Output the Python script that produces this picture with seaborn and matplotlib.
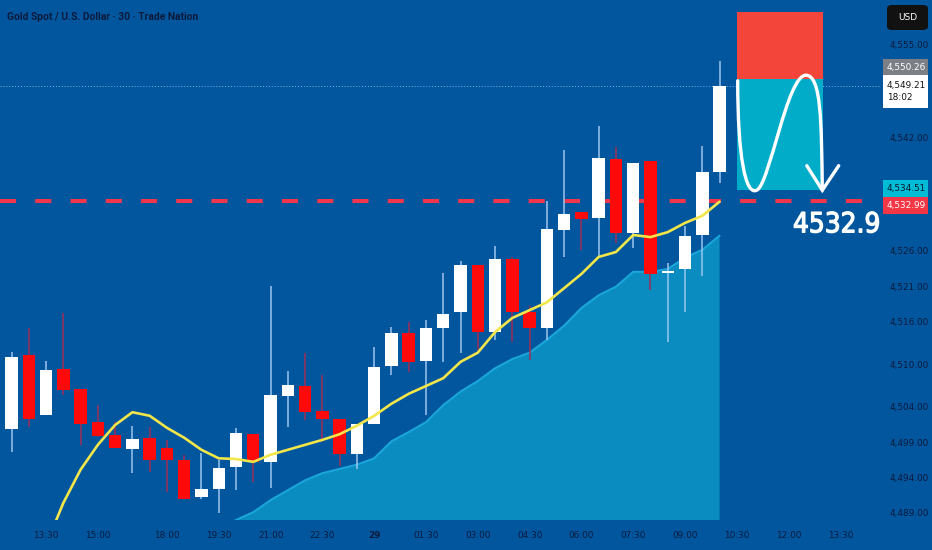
import matplotlib
matplotlib.use("Agg")
import matplotlib.pyplot as plt
import matplotlib.transforms as mtransforms
import matplotlib.patheffects as pe
from matplotlib.patches import Rectangle, FancyBboxPatch, PathPatch
from matplotlib.path import Path
import numpy as np
import pandas as pd
import seaborn as sns

# -------------------------------
# Data (30 min candles, 28th 12:30 -> 29th 10:00)
# -------------------------------
opens = [4500.8, 4511.3, 4502.8, 4509.3, 4506.5, 4501.8, 4500.0, 4498.0, 4499.6, 4498.2,
         4496.5, 4491.2, 4492.4, 4495.5, 4500.1, 4496.2, 4505.5, 4506.9, 4503.4, 4502.2,
         4497.3, 4501.5, 4509.7, 4514.4, 4510.4, 4515.1, 4517.3, 4524.0, 4514.5, 4524.8,
         4517.3, 4515.1, 4528.9, 4531.4, 4530.6, 4538.9, 4528.5, 4538.6, 4522.8, 4523.4,
         4528.2, 4537.1]
closes = [4511.0, 4502.2, 4509.2, 4506.3, 4501.5, 4499.9, 4498.2, 4499.4, 4496.5, 4496.5,
          4491.0, 4492.4, 4495.3, 4500.3, 4496.2, 4505.6, 4507.0, 4503.2, 4502.2, 4497.3,
          4501.5, 4509.6, 4514.4, 4510.3, 4515.1, 4517.1, 4524.0, 4514.5, 4524.8, 4517.3,
          4515.1, 4529.0, 4531.2, 4530.5, 4539.1, 4528.5, 4538.4, 4522.7, 4523.1, 4528.1,
          4537.1, 4549.2]
highs = [4511.7, 4515.1, 4510.4, 4517.2, 4506.5, 4504.2, 4501.8, 4501.3, 4501.1, 4499.3,
         4497.2, 4497.5, 4496.5, 4501.0, 4500.1, 4521.0, 4509.0, 4511.6, 4508.5, 4502.2,
         4501.5, 4512.4, 4515.2, 4515.9, 4516.2, 4522.8, 4524.5, 4524.0, 4526.6, 4525.1,
         4518.2, 4533.0, 4540.2, 4531.4, 4543.6, 4540.6, 4538.4, 4538.6, 4524.3, 4529.5,
         4540.8, 4552.7]
lows = [4497.6, 4501.1, 4502.8, 4505.6, 4498.6, 4499.7, 4498.2, 4494.6, 4494.8, 4492.0,
        4491.0, 4491.0, 4489.0, 4492.2, 4493.4, 4492.5, 4501.1, 4502.1, 4499.0, 4495.6,
        4495.2, 4501.5, 4508.5, 4508.9, 4502.8, 4510.3, 4511.6, 4512.0, 4513.4, 4513.1,
        4510.6, 4513.4, 4525.1, 4526.1, 4525.1, 4527.1, 4526.4, 4520.4, 4513.1, 4517.3,
        4522.4, 4535.5]

# fast moving average (yellow), starts at candle 2
fast_ma = [4484.5, 4490.4, 4495.1, 4498.6, 4501.4, 4503.2, 4502.7, 4501.0, 4499.6, 4497.9,
           4496.7, 4496.6, 4496.2, 4497.2, 4497.9, 4498.6, 4499.3, 4500.1, 4501.3, 4502.7,
           4504.4, 4505.8, 4506.9, 4508.0, 4510.3, 4511.6, 4514.5, 4516.5, 4517.6, 4518.7,
           4520.7, 4522.7, 4525.1, 4525.8, 4528.2, 4527.9, 4528.6, 4529.9, 4530.9, 4532.9]
# slow moving average (filled area), starts at candle 12
slow_ma = [4486.5, 4488.0, 4489.1, 4490.8, 4492.2, 4493.6, 4494.6, 4495.2, 4495.8, 4496.7,
           4499.1, 4500.4, 4501.8, 4504.2, 4506.1, 4507.6, 4509.4, 4510.7, 4511.6, 4513.4,
           4515.4, 4517.9, 4519.7, 4520.9, 4523.0, 4523.0, 4523.4, 4525.0, 4526.1, 4528.1]

time_ticks = [2, 5, 9, 12, 15, 18, 21, 24, 27, 30, 33, 36, 39, 42, 45, 48]
time_labels = ["13:30", "15:00", "18:00", "19:30", "21:00", "22:30", "29", "01:30",
               "03:00", "04:30", "06:00", "07:30", "09:00", "10:30", "12:00", "13:30"]
price_ticks = [4489, 4494, 4499, 4504, 4510, 4516, 4521, 4526, 4542, 4555]

stop_price = 4559.65
entry_price = 4550.26
target_price = 4534.51
last_price = 4549.21
support_price = 4532.99
support_text = "4532.9"
trade_start, trade_end = 42, 47

# -------------------------------
# Style
# -------------------------------
BG = "#02569e"
TXT = "#0c1a3c"
sns.set_theme(style="dark", rc={"axes.facecolor": BG, "figure.facecolor": BG,
                                "axes.grid": False})
plt.rcParams["font.family"] = ["DejaVu Sans"]

fig = plt.figure(figsize=(9.32, 5.5), dpi=100)
ax = fig.add_axes([0, 30 / 550, 880 / 932, 520 / 550])
for s in ax.spines.values():
    s.set_visible(False)

n = len(opens)
df = pd.DataFrame({"x": np.arange(n), "open": opens, "close": closes,
                   "high": highs, "low": lows})
df["bull"] = df["close"] >= df["open"]

# slow MA area
x_slow = np.arange(n - len(slow_ma), n)
ax.fill_between(x_slow, slow_ma, 4400, color="#0a8cc0", lw=0, zorder=1)
sns.lineplot(x=x_slow, y=slow_ma, ax=ax, color="#1aa6d9", lw=1.5, zorder=1.5)

# support line and last price
ax.axhline(support_price, color="#f0364a", lw=2.9, dashes=(4, 4.75), zorder=2)
ax.axhline(last_price, color="#6fb6ea", lw=0.7, ls=(0, (1, 2)), zorder=2)

# candles
wick_cols = np.where(df["bull"], "#9cc6ee", "#9e2d55")
ax.vlines(df["x"], df["low"], df["high"], colors=wick_cols, lw=1.1, zorder=3)
body_h = np.maximum((df["close"] - df["open"]).abs(), 0.3)
body_b = np.minimum(df["open"], df["close"])
ax.bar(df["x"], body_h, bottom=body_b, width=0.72,
       color=np.where(df["bull"], "#ffffff", "#ff0a0a"), lw=0, zorder=4)

# fast MA line
x_fast = np.arange(n - len(fast_ma), n)
sns.lineplot(x=x_fast, y=fast_ma, ax=ax, color="#f2e64a", lw=1.9, zorder=5)

# trade box
ax.add_patch(Rectangle((trade_start, entry_price), trade_end - trade_start,
                       stop_price - entry_price, color="#f4453a", lw=0, zorder=6))
ax.add_patch(Rectangle((trade_start, target_price), trade_end - trade_start,
                       entry_price - target_price, color="#00acc8", lw=0, zorder=6))

# projected path drawn inside the box (fractions of box width / height)
w = trade_end - trade_start
h = entry_price - target_price
def bx(fx, fy):
    return (trade_start + fx * w, target_price + fy * h)
verts = [bx(0.01, 0.98), bx(0.01, 0.3), bx(0.10, -0.05), bx(0.23, 0.0),
         bx(0.38, 0.05), bx(0.58, 1.03), bx(0.80, 1.03),
         bx(0.98, 1.03), bx(0.98, 0.6), bx(0.99, 0.0)]
codes = [Path.MOVETO] + [Path.CURVE4] * 9
ax.add_patch(PathPatch(Path(verts, codes), fill=False, ec="white", lw=2.4,
                       capstyle="round", zorder=7))
ax.plot([trade_start + 0.81 * w, trade_start + 0.99 * w, trade_start + 1.18 * w],
        [target_price + 0.22 * h, target_price, target_price + 0.22 * h],
        color="white", lw=2.4, solid_capstyle="round", solid_joinstyle="miter", zorder=7)

ax.text(45.25, 4529.7, support_text, color="white", fontsize=20,
        fontstretch="condensed", ha="left", va="center", zorder=8,
        path_effects=[pe.withStroke(linewidth=0.9, foreground="white")])

# -------------------------------
# Axes
# -------------------------------
ax.set_xlim(-0.666, 50.29)
ax.set_ylim(4488.0, 4561.34)
ax.set_xticks(time_ticks)
ax.set_xticklabels(time_labels)
ax.yaxis.tick_right()
ax.set_yticks(price_ticks)
ax.set_yticklabels([f"{p:,.2f}" for p in price_ticks])
ax.tick_params(axis="both", length=0, colors=TXT, labelsize=6.4)
ax.tick_params(axis="x", pad=8)
ax.tick_params(axis="y", pad=7)
for lab in ax.get_xticklabels():
    if lab.get_text() == "29":
        lab.set_fontweight("bold")
ax.set_xlabel("")
ax.set_ylabel("")

# price scale labels
labels = [(entry_price, "4,550.26", "#7d7f86", "white", 17, 11.5),
          (last_price, "4,549.21\n18:02", "white", "#111111", 33, -5.5),
          (target_price, "4,534.51", "#00bcd4", "#0b1630", 17, 1.5),
          (support_price, "4,532.99", "#f23645", "white", 17, -4.5)]
ppx = 520 / (4561.34 - 4488.0)
for price, txt, fc, tc, hpx, off in labels:
    tr = mtransforms.offset_copy(ax.get_yaxis_transform(), fig=fig, y=off, units="dots")
    hh = hpx / ppx
    ax.add_patch(Rectangle((1.0034, price - hh / 2), 45 / 880, hh, transform=tr,
                           color=fc, lw=0, clip_on=False, zorder=9))
    ax.text(1.0034 + 4 / 880, price, txt, transform=tr, color=tc, fontsize=6.4,
            ha="left", va="center", linespacing=1.5, zorder=10, clip_on=False)

fig.patches.append(FancyBboxPatch((887 / 932, 1 - 30 / 550), 41 / 932, 25 / 550,
                                  boxstyle="round,pad=0,rounding_size=0.006",
                                  transform=fig.transFigure, fc="#111111", ec="none"))
fig.text(907.5 / 932, 1 - 17.5 / 550, "USD", color="white", fontsize=6.5,
         ha="center", va="center")

fig.text(7 / 932, 1 - 17 / 550, "Gold Spot / U.S. Dollar · 30 · Trade Nation",
         color=TXT, fontsize=7.4, family=["Roboto", "DejaVu Sans"], fontweight="bold",
         ha="left", va="center")

fig.savefig("out.png", dpi=100, facecolor=BG)
